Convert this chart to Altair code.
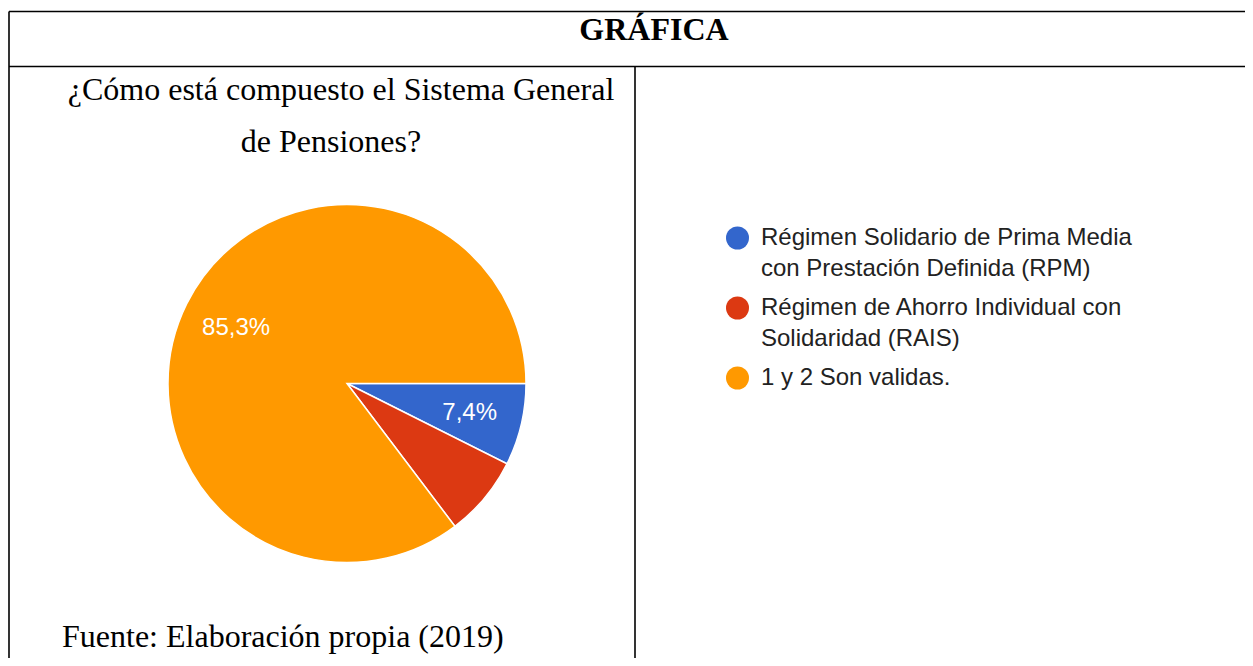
import altair as alt
import pandas as pd

# ---- data ----
categories = ["RPM", "RAIS", "Ambas"]
legend_labels = [
    "Régimen Solidario de Prima Media\ncon Prestación Definida (RPM)",
    "Régimen de Ahorro Individual con\nSolidaridad (RAIS)",
    "1 y 2 Son validas.",
]
percentages = [7.4, 7.3, 85.3]
slice_labels = ["7,4%", "", "85,3%"]
slice_colors = ["#3366CC", "#DC3912", "#FF9900"]

header_text = "GRÁFICA"
title_line1 = "¿Cómo está compuesto el Sistema General"
title_line2 = "de Pensiones?"
source_text = "Fuente: Elaboración propia (2019)"

df = pd.DataFrame({
    "cat": categories,
    "value": percentages,
    "label": slice_labels,
    "legend": legend_labels,
    "order": list(range(len(categories))),
})

W, H = 1237, 650
PI = 3.141592653589793

color = alt.Color("cat:N", scale=alt.Scale(domain=categories, range=slice_colors), legend=None)
theta = alt.Theta("value:Q", stack=True, scale=alt.Scale(range=[PI / 2, PI / 2 + 2 * PI]))
order = alt.Order("order:Q")

base = alt.Chart(df)

pie = base.mark_arc(outerRadius=179, stroke="white", strokeWidth=1.5).encode(
    theta=theta, color=color, order=order,
    x=alt.value(339), y=alt.value(375.5),
)

pie_text = base.mark_text(radius=125, font="Arial, Liberation Sans", fontSize=24, color="white").encode(
    theta=theta, order=order, text="label:N",
    x=alt.value(340), y=alt.value(376),
)

ly = alt.Y("cat:N", scale=alt.Scale(domain=categories, range=[230, 370], padding=0), axis=None)

leg_sym = base.mark_point(filled=True, shape="circle", size=529, opacity=1).encode(
    x=alt.value(729.5), y=ly, color=color,
)
leg_txt = base.mark_text(
    align="left", baseline="top", dy=-12, lineBreak="\n", lineHeight=31,
    font="Arial, Liberation Sans", fontSize=24, color="#222222",
).encode(x=alt.value(753), y=ly, text="legend:N")


def static_text(txt, x, y, size, weight="normal", align="center"):
    return alt.Chart(pd.DataFrame({"t": [txt]})).mark_text(
        font="Liberation Serif, Times New Roman", fontSize=size, fontWeight=weight,
        align=align, baseline="alphabetic", color="black",
    ).encode(x=alt.value(x), y=alt.value(y), text="t:N")


header = static_text(header_text, 646, 32, 32, weight="bold")
t1 = static_text(title_line1, 333, 92, 32)
t2 = static_text(title_line2, 323, 144, 32)
src = static_text(source_text, 54, 639, 32, align="left")

one = pd.DataFrame({"k": [0]})
line_style = dict(color="black", strokeWidth=1.6)
top_line = alt.Chart(one).mark_rule(**line_style).encode(x=alt.value(1), x2=alt.value(W), y=alt.value(3.5))
head_line = alt.Chart(one).mark_rule(**line_style).encode(x=alt.value(1), x2=alt.value(W), y=alt.value(58.5))
left_line = alt.Chart(one).mark_rule(**line_style).encode(x=alt.value(1), y=alt.value(3.5), y2=alt.value(H))
mid_line = alt.Chart(one).mark_rule(**line_style).encode(x=alt.value(627), y=alt.value(58.5), y2=alt.value(H))

chart = alt.layer(
    top_line, head_line, left_line, mid_line,
    pie, pie_text, leg_sym, leg_txt,
    header, t1, t2, src,
).properties(
    width=W, height=H, padding=0, autosize=alt.AutoSizeParams(type="none"),
).configure_view(stroke=None).resolve_scale(y="independent")

chart.save("out.html", embed_options={"renderer": "svg", "actions": False})
